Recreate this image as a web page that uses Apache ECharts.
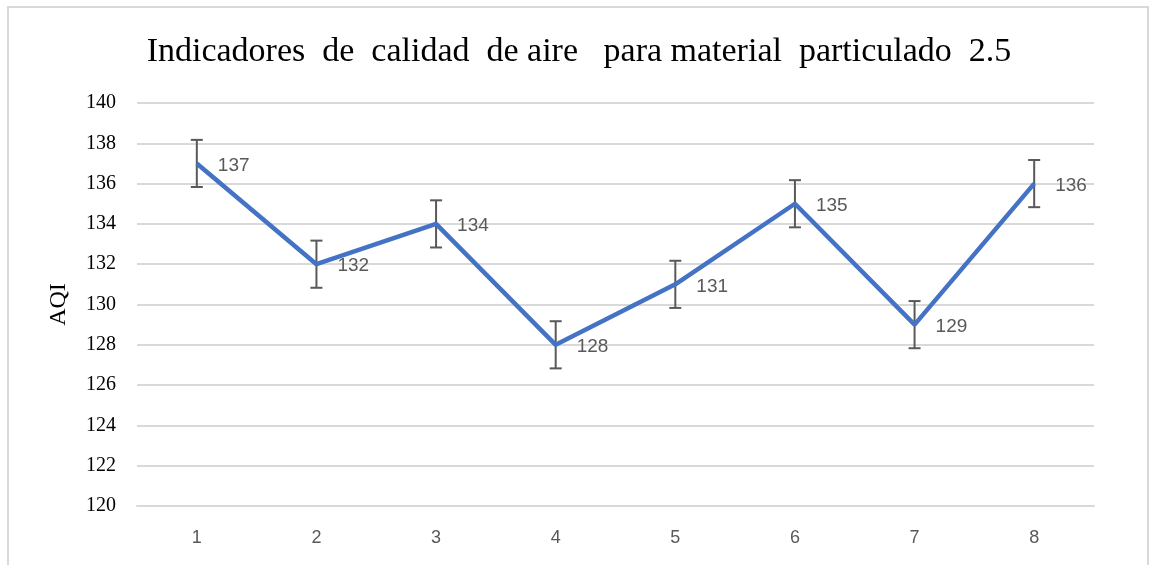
<!DOCTYPE html>
<html>
<head>
<meta charset="utf-8">
<script src="https://cdn.jsdelivr.net/npm/echarts@6/dist/echarts.min.js"></script>
<style>
  html, body { margin: 0; padding: 0; background: #fff; }
  #frame {
    position: absolute; left: 7px; top: 6px; width: 1142px; height: 600px;
    border: 2px solid #d9d9d9; box-sizing: border-box;
  }
  #chart { position: absolute; left: 0; top: 0; width: 1158px; height: 565px; }
</style>
</head>
<body>
<div id="frame"></div>
<div id="chart"></div>
<script>
// valores
const categories = ["1", "2", "3", "4", "5", "6", "7", "8"];
const aqiValues = [137, 132, 134, 128, 131, 135, 129, 136];
const errorValues = [1.17, 1.17, 1.17, 1.17, 1.17, 1.17, 1.17, 1.17];
const yTicks = { min: 120, max: 140, interval: 2 };

let chart = echarts.init(document.getElementById("chart"));

// [indice, inferior, superior, valor]
let errorData = aqiValues.map((v, i) => [i, v - errorValues[i], v + errorValues[i], v]);

let option = {
  animation: false,
  title: {
    text: "Indicadores  de  calidad  de aire   para material  particulado  2.5",
    left: "center",
    top: 30,
    textStyle: {
      fontFamily: "Liberation Serif",
      fontWeight: "normal",
      fontSize: 34,
      color: "#000"
    }
  },
  grid: {
    left: 137,
    right: 64,
    top: 103,
    bottom: 59
  },
  xAxis: {
    type: "category",
    data: categories,
    boundaryGap: true,
    axisTick: { show: false },
    axisLine: { show: true, lineStyle: { color: "#d9d9d9", width: 2 } },
    axisLabel: {
      color: "#595959",
      fontFamily: "Liberation Sans",
      fontSize: 18,
      margin: 23
    }
  },
  yAxis: {
    type: "value",
    min: yTicks.min,
    max: yTicks.max,
    interval: yTicks.interval,
    name: "AQI",
    nameLocation: "middle",
    nameGap: 66,
    nameTextStyle: {
      fontFamily: "Liberation Serif",
      fontSize: 24,
      color: "#000"
    },
    axisLine: { show: false },
    axisTick: { show: false },
    splitLine: { lineStyle: { color: "#d9d9d9", width: 2 } },
    axisLabel: {
      color: "#000",
      fontFamily: "Liberation Serif",
      fontSize: 20,
      margin: 21
    }
  },
  series: [
    {
      name: "AQI",
      type: "line",
      data: aqiValues,
      symbol: "none",
      lineStyle: { color: "#4472C4", width: 4.5 },
      z: 3
    },
    {
      name: "error",
      type: "custom",
      data: errorData,
      z: 2,
      renderItem: function(params, api) {
        let x = api.value(0);
        let lo = api.coord([x, api.value(1)]);
        let hi = api.coord([x, api.value(2)]);
        let pt = api.coord([x, api.value(3)]);
        let half = 6;
        let style = { stroke: "#595959", lineWidth: 2 };
        return {
          type: "group",
          children: [
            { type: "line", shape: { x1: lo[0], y1: lo[1], x2: hi[0], y2: hi[1] }, style: style },
            { type: "line", shape: { x1: lo[0] - half, y1: lo[1], x2: lo[0] + half, y2: lo[1] }, style: style },
            { type: "line", shape: { x1: hi[0] - half, y1: hi[1], x2: hi[0] + half, y2: hi[1] }, style: style },
            {
              type: "text",
              z2: 10,
              style: {
                text: String(api.value(3)),
                x: pt[0] + 21,
                y: pt[1] + 2,
                fill: "#595959",
                font: "19px 'Liberation Sans'",
                verticalAlign: "middle",
                align: "left"
              }
            }
          ]
        };
      }
    }
  ]
};

chart.setOption(option);
</script>
</body>
</html>
